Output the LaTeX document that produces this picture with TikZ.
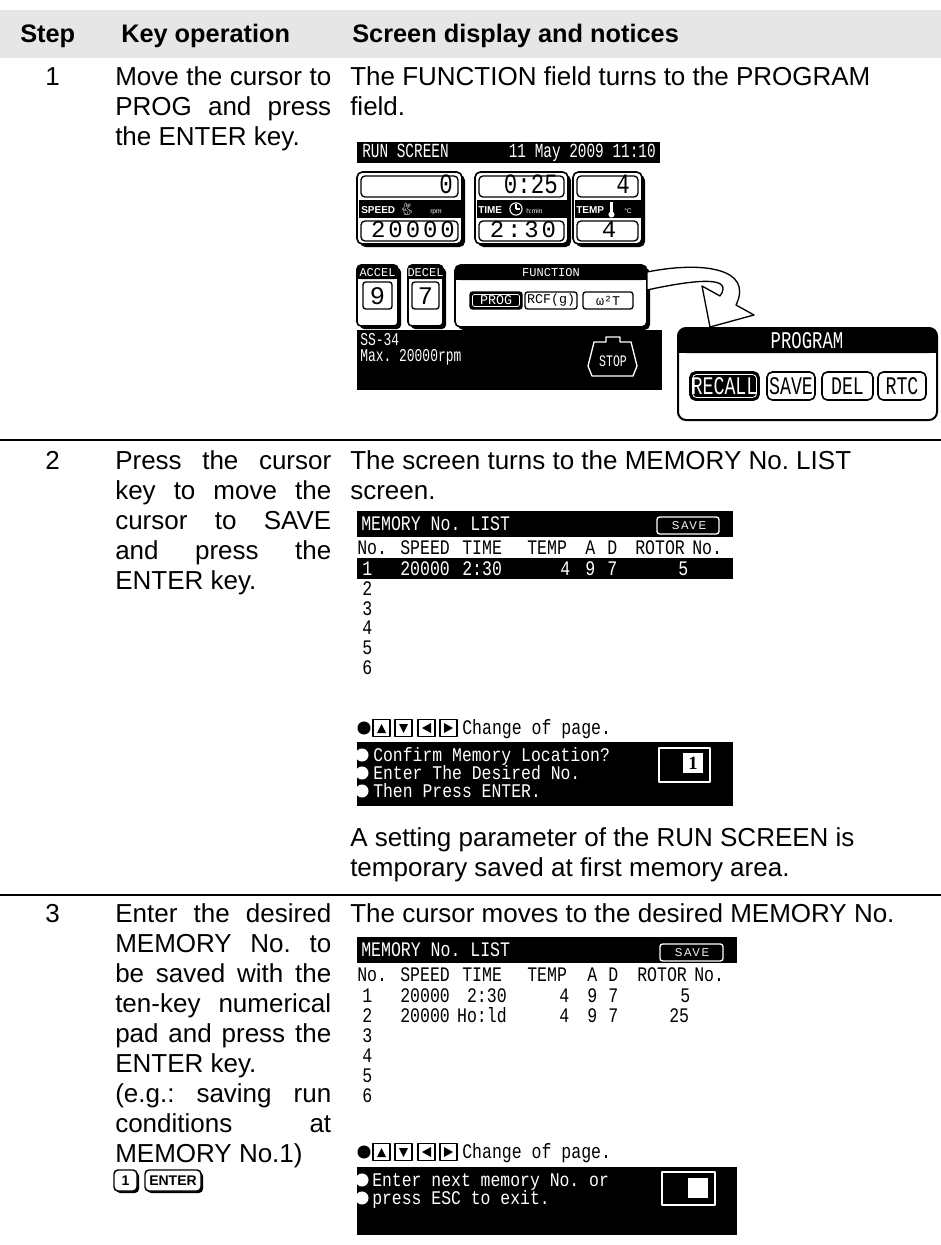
\documentclass[tikz,border=0pt]{standalone}
\usepackage{fontspec}
\setmainfont{Liberation Sans}
\newfontfamily\lcd[FakeStretch=0.8]{Liberation Mono}
\newfontfamily\lcdb[FakeStretch=0.85]{Liberation Mono}
\newfontfamily\lcdn[FakeStretch=0.72]{Liberation Mono}
\newfontfamily\valn[FakeStretch=0.8]{Liberation Mono}
\newfontfamily\valf{Liberation Mono}
\newfontfamily\valfs[LetterSpace=12]{Liberation Mono}
\newfontfamily\spsans[LetterSpace=15]{Liberation Sans}
\newfontfamily\emojif{Noto Emoji}
\newfontfamily\serifb{Liberation Serif}
\frenchspacing
\definecolor{hdrgray}{HTML}{E6E6E6}
\newcommand\bodyf{\fontsize{19.5pt}{23pt}\selectfont}
\newcommand\hdrf{\fontsize{19pt}{23pt}\selectfont\bfseries}
\newcommand\jl[1]{\makebox[162pt][s]{#1}}
\tikzset{
 tx/.style={inner sep=0pt, anchor=base west, font=\bodyf},
 hd/.style={inner sep=0pt, anchor=base west, font=\hdrf},
 rsw/.style={inner sep=0pt, anchor=base west, text=white, font=\lcdn\fontsize{15pt}{15pt}\selectfont},
 lst/.style={inner sep=0pt, anchor=base west, font=\lcd\fontsize{15.5pt}{15.5pt}\selectfont},
 lstw/.style={lst, text=white},
 boxw/.style={inner sep=0pt, anchor=base west, text=white, font=\lcdb\fontsize{14.5pt}{14.5pt}\selectfont},
 valtop/.style={inner sep=0pt, anchor=base east, font=\valn\fontsize{21pt}{21pt}\selectfont},
 valbot/.style={inner sep=0pt, anchor=base, font=\valfs\fontsize{18pt}{18pt}\selectfont},
 bandlbl/.style={inner sep=0pt, anchor=base west, text=white, font=\fontsize{7.5pt}{7.5pt}\selectfont\bfseries},
 tinyw/.style={inner sep=0pt, anchor=base west, text=white, font=\fontsize{5pt}{5pt}\selectfont},
 smallmono/.style={inner sep=0pt, font=\valf\fontsize{9pt}{9pt}\selectfont},
 btnmono/.style={inner sep=0pt, font=\valf\fontsize{10pt}{10pt}\selectfont},
 pbtn/.style={inner sep=0pt, font=\lcdn\fontsize{19pt}{19pt}\selectfont},
 keycap/.style={draw, fill=white, line width=1.1pt, rounded corners=3pt, inner sep=0pt, minimum height=15.75pt, font=\fontsize{10.5pt}{10.5pt}\selectfont\bfseries},
 sepline/.style={line width=1.5pt},
}
\newcommand\valbox[8]{%
 \fill[rounded corners=4pt] ({#1+3},175) rectangle ({#2+3},247);
 \draw[line width=1.2pt, rounded corners=4pt, fill=white] (#1,172) rectangle (#2,244);
 \draw[line width=1pt, rounded corners=3pt] ({#1+4},176) rectangle ({#2-4},197);
 \fill ({#1+1.5},200) rectangle ({#2-1.5},218);
 \draw[line width=1pt, rounded corners=3pt] ({#1+4},221) rectangle ({#2-4},241);
 \node[valtop] (#3top) at (#7,194) {#4};
 \node[valbot] (#3bot) at (#8,237) {#6};
}
\newcommand\arrkeys[1]{%
 \fill (364,#1) circle[radius=4.9pt];
 \foreach \xa in {373,395,418,440} {\draw[line width=0.8pt] (\xa,{#1-8.5}) rectangle ({\xa+17},{#1+8.5});}
 \fill (377,{#1+5}) -- (386,{#1+5}) -- (381.5,{#1-4}) -- cycle;
 \fill (399,{#1-4}) -- (408,{#1-4}) -- (403.5,{#1+5}) -- cycle;
 \fill (431,{#1-5}) -- (431,{#1+5}) -- (422,#1) -- cycle;
 \fill (444,{#1-5}) -- (444,{#1+5}) -- (453,#1) -- cycle;
}
\begin{document}
\begin{tikzpicture}[x=0.75pt,y=-0.75pt,line join=round]
\useasboundingbox (0,0) rectangle (941,1245);
% ---------- header
\fill[hdrgray] (0,10) rectangle (941,58);
\node[hd] (hStep) at (20,43) {Step};
\node[hd] (hKey) at (121,43) {Key operation};
\node[hd] (hScr) at (352,43) {Screen display and notices};
% ---------- row 1 text
\node[tx] (n1) at (45,86) {1};
\node[tx] (k1a) at (115,86) {\jl{Move the cursor to}};
\node[tx] (k1b) at (115,116) {\jl{PROG and press}};
\node[tx] (k1c) at (115,146) {the ENTER key.};
\node[tx] (s1a) at (350,86) {The FUNCTION field turns to the PROGRAM};
\node[tx] (s1b) at (350,116) {field.};
% ---------- run screen
\fill (357,142) rectangle (660,163);
\node[rsw] (rstitle) at (362,158) {RUN SCREEN};
\node[rsw, anchor=base east] (rsdate) at (656,158) {11 May 2009 11:10};
\valbox{357}{462}{spd}{0}{}{20000}{453}{413}
\valbox{475}{568}{tim}{0:25}{}{2:30}{558}{523}
\valbox{573}{642}{tmp}{4}{}{4}{630}{609}
\node[bandlbl] (spdl) at (361,213) {SPEED};
\node[inner sep=0pt, text=white, font=\emojif\fontsize{9pt}{9pt}\selectfont] (rabbit) at (407,209) {🐇};
\node[tinyw] (rpm) at (430,213) {rpm};
\node[bandlbl] (timl) at (478,213) {TIME};
\draw[white, line width=0.8pt] (516,209) circle[radius=4.6pt];
\draw[white, line width=0.8pt] (516,209) -- (516,204) (516,209) -- (520,209);
\node[tinyw] (hmin) at (526,213) {h:min};
\node[bandlbl] (tmpl) at (576,213) {TEMP};
\fill[white] (610,202) rectangle (613,213);
\fill[white] (611.5,214.5) circle[radius=2.3pt];
\node[tinyw] (degc) at (624,213) {°C};
% accel / decel
\fill[rounded corners=3pt] (360,268) rectangle (401,329);
\draw[line width=1.2pt, rounded corners=3pt, fill=white] (357,265) rectangle (398,326);
\fill[rounded corners=3pt] (357,265) rectangle (398,279);
\fill (357,273) rectangle (398,279);
\node[smallmono, text=white] (accl) at (377.5,272.5) {ACCEL};
\draw[line width=1pt, rounded corners=2pt] (363,282) rectangle (392,309);
\node[inner sep=0pt, font=\valf\fontsize{19pt}{19pt}\selectfont] (accv) at (377.5,296) {9};
\fill[rounded corners=3pt] (411,268) rectangle (446,329);
\draw[line width=1.2pt, rounded corners=3pt, fill=white] (408,265) rectangle (443,326);
\fill[rounded corners=3pt] (408,265) rectangle (443,279);
\fill (408,273) rectangle (443,279);
\node[smallmono, text=white] (decl) at (425.5,272.5) {DECEL};
\draw[line width=1pt, rounded corners=2pt] (412,282) rectangle (439,309);
\node[inner sep=0pt, font=\valf\fontsize{19pt}{19pt}\selectfont] (decv) at (425.5,296) {7};
% function
\fill[rounded corners=4pt] (458,268) rectangle (650,330);
\draw[line width=1.2pt, rounded corners=4pt, fill=white] (455,265) rectangle (647,327);
\fill[rounded corners=4pt] (455,265) rectangle (647,280);
\fill (455,274) rectangle (647,280);
\node[smallmono, text=white] (funl) at (551,272.5) {FUNCTION};
\draw[line width=1pt, rounded corners=2pt, fill=black] (470,292) rectangle (522,309);
\draw[white, line width=0.5pt, rounded corners=1.5pt] (472.5,294.5) rectangle (519.5,306.5);
\node[btnmono, text=white] (bprog) at (496,300.5) {PROG};
\draw[line width=1pt, rounded corners=2pt] (525,292) rectangle (577,309);
\node[btnmono] (brcf) at (551,300.5) {RCF(g)};
\draw[line width=1pt, rounded corners=2pt] (583,292) rectangle (633,309);
\node[btnmono] (bw2t) at (608,300.5) {ω²T};
% bottom black block
\fill (357,330) rectangle (662,390);
\node[rsw, font=\lcdn\fontsize{13.5pt}{13.5pt}\selectfont] (ss34) at (360,345) {SS-34};
\node[rsw, font=\lcdn\fontsize{13.5pt}{13.5pt}\selectfont] (maxrpm) at (360,361) {Max. 20000rpm};
\draw[white, line width=1pt] (606,337) -- (620,337) -- (620,342) -- (631,342) -- (637,366) -- (633,376) -- (592,376) -- (588,366) -- (594,342) -- (606,342) -- cycle;
\node[inner sep=0pt, text=white, font=\lcdn\fontsize{12pt}{12pt}\selectfont] (stop) at (613,361) {STOP};
% program box
\draw[line width=1.5pt, rounded corners=6pt, fill=white] (678,328) rectangle (937,420);
\fill[rounded corners=6pt] (678,328) rectangle (937,353);
\fill (678,344) rectangle (937,353);
\node[inner sep=0pt, text=white, font=\lcdn\fontsize{18pt}{18pt}\selectfont] (ptitle) at (807,341) {PROGRAM};
\draw[line width=1.2pt, rounded corners=4pt, fill=black] (690,372) rectangle (759,400);
\draw[white, line width=0.6pt, rounded corners=3pt] (692.5,374.5) rectangle (756.5,397.5);
\node[pbtn, text=white] (precall) at (724.5,386) {RECALL};
\draw[line width=1.2pt, rounded corners=4pt] (767,372) rectangle (815,400);
\node[pbtn] (psave) at (791,386) {SAVE};
\draw[line width=1.2pt, rounded corners=4pt] (822,372) rectangle (873,400);
\node[pbtn] (pdel) at (847.5,386) {DEL};
\draw[line width=1.2pt, rounded corners=4pt] (878,372) rectangle (926,400);
\node[pbtn] (prtc) at (902,386) {RTC};
% curved hollow arrow
\draw[line width=1pt, fill=white] (647,272) .. controls (702,261) and (754,268) .. (736,305) -- (754,315) -- (710,327) -- (702,286) -- (720,296) .. controls (734,276) and (698,279) .. (647,290) -- cycle;
% ---------- separator 1
\draw[sepline] (0,440) -- (941,440);
% ---------- row 2 text
\node[tx] (n2) at (45,469) {2};
\node[tx] (k2a) at (115,469) {\jl{Press the cursor}};
\node[tx] (k2b) at (115,499) {\jl{key to move the}};
\node[tx] (k2c) at (115,529) {\jl{cursor to SAVE}};
\node[tx] (k2d) at (115,559) {\jl{and press the}};
\node[tx] (k2e) at (115,589) {ENTER key.};
\node[tx] (s2a) at (350,469) {The screen turns to the MEMORY No. LIST};
\node[tx] (s2b) at (350,499) {screen.};
% memory screen 2
\fill (357,511) rectangle (733,537);
\node[lstw] (m2title) at (361,530) {MEMORY No. LIST};
\draw[white, line width=1pt, rounded corners=2pt] (657,517) rectangle (719,534);
\node[inner sep=0pt, text=white, font=\spsans\fontsize{8.5pt}{8.5pt}\selectfont] (m2save) at (689,526) {SAVE};
\node[lst] (m2hno) at (357,554) {No.};
\node[lst] (m2hsp) at (400,554) {SPEED};
\node[lst] (m2hti) at (462,554) {TIME};
\node[lst] (m2hte) at (527,554) {TEMP};
\node[lst] (m2ha) at (585,554) {A};
\node[lst] (m2hd) at (607,554) {D};
\node[lst] (m2hro) at (635,554) {ROTOR};
\node[lst] (m2hno2) at (692,554) {No.};
\fill (357,558) rectangle (733,579);
\node[lstw] (m2r1a) at (362,575) {1};
\node[lstw] (m2r1b) at (400,575) {20000};
\node[lstw] (m2r1c) at (462,575) {2:30};
\node[lstw] (m2r1d) at (560,575) {4};
\node[lstw] (m2r1e) at (585,575) {9};
\node[lstw] (m2r1f) at (607,575) {7};
\node[lstw] (m2r1g) at (678,575) {5};
\node[lst] (m2r2) at (362,595) {2};
\node[lst] (m2r3) at (362,615) {3};
\node[lst] (m2r4) at (362,634.5) {4};
\node[lst] (m2r5) at (362,654) {5};
\node[lst] (m2r6) at (362,674) {6};
\arrkeys{728}
\node[lst] (m2chg) at (462,734) {Change of page.};
\fill (357,742) rectangle (733,806);
\fill[white] (362,755) circle[radius=4.9pt];
\fill[white] (362,773) circle[radius=4.9pt];
\fill[white] (362,791) circle[radius=4.9pt];
\node[boxw] (m2l1) at (373,761) {Confirm Memory Location?};
\node[boxw] (m2l2) at (373,779) {Enter The Desired No.};
\node[boxw] (m2l3) at (373,797) {Then Press ENTER.};
\draw[white, line width=1.2pt] (659,748) rectangle (710,782);
\fill[white] (683,753) rectangle (703,773);
\node[inner sep=0pt, font=\serifb\bfseries\fontsize{14pt}{14pt}\selectfont] (m2in) at (693,763) {1};
\node[tx] (s2c) at (350,846) {A setting parameter of the RUN SCREEN is};
\node[tx] (s2d) at (350,876) {temporary saved at first memory area.};
% ---------- separator 2
\draw[sepline] (0,895) -- (941,895);
% ---------- row 3 text
\node[tx] (n3) at (45,922) {3};
\node[tx] (k3a) at (115,922) {\jl{Enter the desired}};
\node[tx] (k3b) at (115,952) {\jl{MEMORY No. to}};
\node[tx] (k3c) at (115,982) {\jl{be saved with the}};
\node[tx] (k3d) at (115,1012) {\jl{ten-key numerical}};
\node[tx] (k3e) at (115,1042) {\jl{pad and press the}};
\node[tx] (k3f) at (115,1072) {ENTER key.};
\node[tx] (k3g) at (115,1102) {\jl{(e.g.: saving run}};
\node[tx] (k3h) at (115,1132) {\jl{conditions at}};
\node[tx] (k3i) at (115,1162) {MEMORY No.1)};
\fill[rounded corners=3pt] (116,1172) rectangle (139,1193);
\node[keycap, minimum width=17.25pt] (key1) at (125.5,1180.5) {1};
\fill[rounded corners=3pt] (147,1172) rectangle (203,1193);
\node[keycap, minimum width=42pt] (keyent) at (173,1180.5) {ENTER};
\node[tx] (s3a) at (350,922) {The cursor moves to the desired MEMORY No.};
% memory screen 3
\fill (357,937) rectangle (737,963);
\node[lstw] (m3title) at (361,956) {MEMORY No. LIST};
\draw[white, line width=1pt, rounded corners=2pt] (660,944) rectangle (723,961);
\node[inner sep=0pt, text=white, font=\spsans\fontsize{8.5pt}{8.5pt}\selectfont] (m3save) at (692,953) {SAVE};
\node[lst] (m3hno) at (357,981) {No.};
\node[lst] (m3hsp) at (400,981) {SPEED};
\node[lst] (m3hti) at (462,981) {TIME};
\node[lst] (m3hte) at (527,981) {TEMP};
\node[lst] (m3ha) at (587,981) {A};
\node[lst] (m3hd) at (608,981) {D};
\node[lst] (m3hro) at (637,981) {ROTOR};
\node[lst] (m3hno2) at (694,981) {No.};
\node[lst] (m3r1a) at (362,1002) {1};
\node[lst] (m3r1b) at (400,1002) {20000};
\node[lst, anchor=base east] (m3r1c) at (507,1002) {2:30};
\node[lst] (m3r1d) at (559,1002) {4};
\node[lst] (m3r1e) at (587,1002) {9};
\node[lst] (m3r1f) at (608,1002) {7};
\node[lst] (m3r1g) at (680,1002) {5};
\node[lst] (m3r2a) at (362,1022) {2};
\node[lst] (m3r2b) at (400,1022) {20000};
\node[lst, anchor=base east] (m3r2c) at (507,1022) {Ho:ld};
\node[lst] (m3r2d) at (559,1022) {4};
\node[lst] (m3r2e) at (587,1022) {9};
\node[lst] (m3r2f) at (608,1022) {7};
\node[lst] (m3r2g) at (669,1022) {25};
\node[lst] (m3r3) at (362,1042) {3};
\node[lst] (m3r4) at (362,1062) {4};
\node[lst] (m3r5) at (362,1082) {5};
\node[lst] (m3r6) at (362,1102) {6};
\arrkeys{1152}
\node[lst] (m3chg) at (462,1158) {Change of page.};
\fill (357,1167) rectangle (737,1235);
\fill[white] (362,1180) circle[radius=4.9pt];
\fill[white] (362,1198) circle[radius=4.9pt];
\node[boxw] (m3l1) at (372,1186) {Enter next memory No. or};
\node[boxw] (m3l2) at (372,1204) {press ESC to exit.};
\draw[white, line width=1.2pt] (662,1172) rectangle (715,1205);
\fill[white] (688,1178) rectangle (708,1198);
\end{tikzpicture}
\end{document}
